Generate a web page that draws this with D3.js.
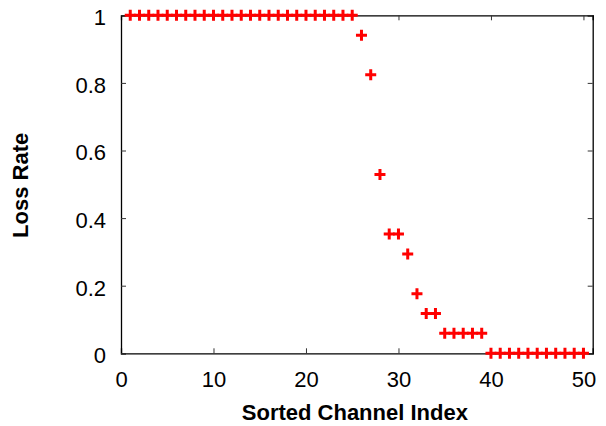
<!DOCTYPE html>
<html>
<head>
<meta charset="utf-8">
<script src="https://cdn.jsdelivr.net/npm/d3@7"></script>
<style>
  html, body { margin: 0; padding: 0; background: #fff; }
  svg { display: block; }
  text { font-family: "Liberation Sans", Arial, Helvetica, sans-serif; fill: #000; }
</style>
</head>
<body>
<svg id="chart" width="606" height="426"></svg>
<script>
// Data
const channelIndex = d3.range(1, 51);
const lossRate = [
  1,1,1,1,1,1,1,1,1,1,
  1,1,1,1,1,1,1,1,1,1,
  1,1,1,1,1,
  0.941, 0.824, 0.529, 0.353, 0.353, 0.294, 0.176, 0.118, 0.118,
  0.059, 0.059, 0.059, 0.059, 0.059,
  0,0,0,0,0,0,0,0,0,0,0
];
const xTicks = [0, 10, 20, 30, 40, 50];
const yTicks = [0, 0.2, 0.4, 0.6, 0.8, 1];
const xTitle = "Sorted Channel Index";
const yTitle = "Loss Rate";

const svg = d3.select("#chart");
const mLeft = 121, mRight = 592.7, mTop = 15.3, mBottom = 353.3;

const x = d3.scaleLinear().domain([0, 51]).range([mLeft, mRight]);
const y = d3.scaleLinear().domain([0, 1]).range([mBottom, mTop]);

const fmt = d => d === 0 ? "0" : (d === 1 ? "1" : d3.format(".1f")(d));

// Bottom axis
const gx = svg.append("g").attr("transform", `translate(0,${mBottom})`)
  .call(d3.axisBottom(x).tickValues(xTicks).tickSize(-5).tickPadding(18).tickFormat(d3.format("d")));
// Top axis (ticks only)
const gxt = svg.append("g").attr("transform", `translate(0,${mTop})`)
  .call(d3.axisTop(x).tickValues(xTicks).tickSize(-5).tickFormat(""));
// Left axis
const gy = svg.append("g").attr("transform", `translate(${mLeft},0)`)
  .call(d3.axisLeft(y).tickValues(yTicks).tickSize(-5).tickPadding(15).tickFormat(fmt));
// Right axis
const gyr = svg.append("g").attr("transform", `translate(${mRight},0)`)
  .call(d3.axisRight(y).tickValues(yTicks).tickSize(-5).tickFormat(""));

[gx, gxt, gy, gyr].forEach(g => {
  g.select(".domain").attr("stroke", "#000").attr("stroke-width", 1.3);
  g.selectAll(".tick line").attr("stroke", "#333").attr("stroke-width", 1);
  g.selectAll(".tick text").style("font-size", "22px").attr("fill", "#000");
});
gy.selectAll(".tick text").attr("dy", "0.43em");
gx.selectAll(".tick text").attr("dy", "0.71em");

// Markers (plus signs)
const pts = channelIndex.map((c, i) => ({ c, v: lossRate[i] }));
const half = 5.5;
const mk = svg.append("g").attr("stroke", "#ff0000").attr("stroke-width", 3).attr("fill", "none");
mk.selectAll("path").data(pts).enter().append("path")
  .attr("d", d => {
    const cx = x(d.c), cy = y(d.v);
    return `M${cx - half},${cy}H${cx + half}M${cx},${cy - half}V${cy + half}`;
  });

// Axis titles
svg.append("text")
  .attr("x", (mLeft + mRight) / 2 - 2)
  .attr("y", 420)
  .attr("text-anchor", "middle")
  .style("font-size", "22px").style("font-weight", "bold")
  .text(xTitle);

svg.append("text")
  .attr("transform", `translate(28,${(mTop + mBottom) / 2 + 1}) rotate(-90)`)
  .attr("text-anchor", "middle")
  .style("font-size", "22px").style("font-weight", "bold")
  .text(yTitle);
</script>
</body>
</html>
